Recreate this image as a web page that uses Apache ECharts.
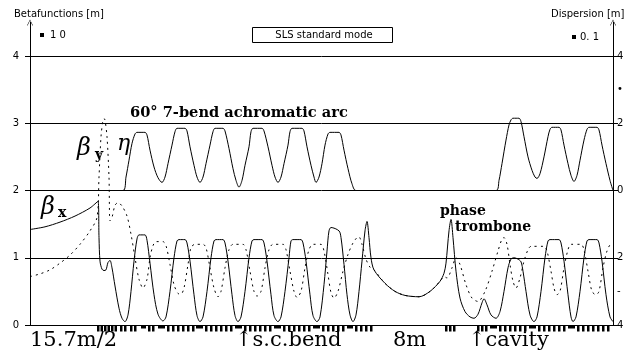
<!DOCTYPE html>
<html><head><meta charset="utf-8">
<script src="https://cdn.jsdelivr.net/npm/echarts@6/dist/echarts.min.js"></script>
<style>html,body{margin:0;padding:0;background:#fff}#c{width:634px;height:354px}</style>
</head><body><div id="c"></div>
<script>
// s: position along the lattice (arbitrary units, left edge 30 .. right edge 613)
const betaX = [[30,1.42],[45,1.46],[60,1.53],[75,1.62],[90,1.74],[98,1.84],[99,1.3],[100,0.95],[102,0.83],[104,0.81],[106,0.82],[108,0.93],[110,0.96],[112,0.85],[115,0.58],[119,0.25],[122,0.1],[125,0.05],[128,0.15],[131,0.5],[134,0.95],[137,1.28],[139,1.34],[145,1.34],[147,1.26],[150,0.92],[154,0.45],[158,0.16],[163,0.06],[166,0.12],[170,0.5],[174,1.0],[177,1.25],[179,1.27],[185,1.27],[187,1.22],[190,0.95],[194,0.45],[197,0.14],[200,0.05],[203,0.12],[207,0.5],[211,1.0],[214,1.25],[216,1.27],[223,1.27],[225,1.22],[228,0.95],[232,0.45],[235,0.14],[238,0.05],[241,0.12],[245,0.5],[249,1.0],[252,1.25],[254,1.27],[262,1.27],[264,1.22],[267,0.95],[271,0.45],[274,0.14],[278,0.05],[281,0.12],[285,0.5],[289,1.0],[291,1.25],[293,1.27],[301,1.27],[303,1.22],[306,0.95],[310,0.45],[313,0.14],[317,0.05],[320,0.12],[324,0.6],[327,1.1],[329,1.4],[331,1.45],[339,1.4],[341,1.3],[344,0.9],[347,0.45],[350,0.15],[353,0.05],[356,0.15],[359,0.5],[362,0.95],[365,1.4],[367,1.54],[369,1.3],[371,1.0],[374,0.82],[385,0.62],[395,0.5],[405,0.44],[419,0.42],[430,0.5],[440,0.65],[444,0.77],[446,0.92],[449,1.4],[451,1.57],[453,1.3],[456,0.8],[460,0.4],[465,0.2],[470,0.12],[474,0.1],[478,0.16],[482,0.33],[484,0.39],[487,0.3],[491,0.15],[496,0.1],[500,0.2],[504,0.5],[508,0.85],[511,0.98],[514,1.0],[518,0.98],[521,0.94],[523,0.8],[526,0.5],[530,0.15],[534,0.05],[537,0.12],[541,0.5],[545,1.0],[548,1.25],[550,1.27],[559,1.27],[561,1.22],[564,0.95],[568,0.45],[571,0.12],[573,0.05],[576,0.12],[580,0.5],[584,1.0],[587,1.25],[589,1.27],[597,1.27],[599,1.22],[602,0.95],[606,0.45],[610,0.12],[613,0.05]];

const betaY = [[30,0.72],[40,0.76],[50,0.82],[60,0.92],[70,1.04],[80,1.2],[90,1.4],[97,1.6],[99,2.2],[101,2.8],[103,3.05],[104,3.07],[105,3.05],[107,2.8],[109,2.2],[110,1.55],[112,1.6],[115,1.78],[118,1.82],[122,1.77],[127,1.62],[131,1.35],[135,1.0],[139,0.68],[143,0.55],[147,0.68],[150,1.0],[153,1.18],[156,1.24],[163,1.24],[166,1.18],[170,0.9],[174,0.6],[178,0.47],[181,0.46],[184,0.55],[188,0.9],[191,1.15],[195,1.2],[203,1.2],[206,1.15],[210,0.85],[214,0.55],[218,0.42],[221,0.5],[225,0.85],[229,1.12],[233,1.2],[243,1.2],[246,1.12],[250,0.8],[254,0.5],[257,0.43],[261,0.5],[265,0.85],[269,1.12],[273,1.2],[283,1.2],[286,1.12],[290,0.8],[294,0.5],[297,0.41],[301,0.5],[305,0.85],[309,1.12],[313,1.2],[321,1.2],[324,1.1],[328,0.75],[331,0.48],[334,0.4],[338,0.5],[343,0.8],[348,1.05],[353,1.22],[357,1.3],[359,1.31],[362,1.2],[366,0.98],[370,0.86],[374,0.82],[385,0.62],[395,0.5],[405,0.44],[419,0.42],[430,0.5],[440,0.65],[444,0.72],[447,0.7],[452,0.85],[456,1.0],[460,0.9],[466,0.6],[472,0.4],[478,0.35],[485,0.5],[492,0.8],[498,1.1],[502,1.28],[504,1.3],[507,1.2],[510,0.9],[513,0.65],[516,0.55],[520,0.7],[524,0.95],[528,1.12],[531,1.17],[544,1.17],[547,1.1],[551,0.8],[554,0.55],[557,0.45],[560,0.5],[564,0.85],[568,1.12],[571,1.2],[581,1.2],[584,1.12],[588,0.8],[592,0.5],[596,0.45],[599,0.5],[603,0.85],[607,1.1],[611,1.2],[613,1.2]];

// dispersion in units of 0.1 m (right axis)
const eta = [[30,0],[123,0],[126,0.4],[129,0.9],[132,1.4],[135,1.68],[137,1.73],[145,1.73],[147,1.65],[150,1.2],[154,0.7],[158,0.38],[162,0.24],[165,0.4],[168,0.8],[172,1.35],[175,1.75],[177,1.85],[185,1.85],[187,1.77],[190,1.3],[194,0.75],[197,0.4],[200,0.24],[203,0.4],[206,0.8],[210,1.35],[213,1.75],[215,1.85],[223,1.85],[225,1.77],[229,1.25],[233,0.65],[236,0.3],[239,0.1],[242,0.3],[245,0.75],[249,1.3],[251,1.75],[253,1.85],[262,1.85],[264,1.77],[268,1.3],[272,0.75],[275,0.4],[278,0.24],[281,0.4],[284,0.8],[288,1.35],[290,1.75],[292,1.85],[302,1.85],[304,1.77],[307,1.3],[311,0.75],[314,0.4],[316,0.24],[319,0.4],[322,0.8],[325,1.35],[328,1.68],[330,1.73],[339,1.73],[341,1.65],[344,1.2],[348,0.65],[352,0.2],[356,0],[496,0],[499,0.3],[502,0.8],[506,1.5],[509,1.95],[511,2.1],[513,2.15],[519,2.15],[521,2.05],[524,1.6],[528,1.0],[532,0.6],[535,0.4],[537,0.36],[540,0.5],[544,1.0],[548,1.6],[550,1.82],[552,1.88],[559,1.88],[561,1.8],[564,1.35],[568,0.8],[571,0.45],[574,0.27],[577,0.45],[580,0.9],[584,1.5],[587,1.82],[589,1.88],[597,1.88],[599,1.8],[602,1.35],[606,0.8],[610,0.3],[613,0]];

// magnets: [start, end, kind] q = full-height (quadrupole/sextupole), b = half-height (dipole)
const magnets = [[97,99.5,'q'],[100.5,103,'q'],[104,106.5,'q'],[107.5,110,'q'],[111,113.5,'q'],[114.5,117,'q'],[120,122.5,'q'],[124,126.5,'q'],[130,132.5,'q'],[134,136.5,'q'],[141,146,'b'],[148,150.5,'q'],[152,154.5,'q'],[158,165,'b'],[167,169.5,'q'],[172,174.5,'q'],[177,179.5,'q'],[182,184.5,'q'],[187,189.5,'q'],[192,194.5,'q'],[196,203,'b'],[205,207.5,'q'],[210,212.5,'q'],[215,217.5,'q'],[220,222.5,'q'],[225,227.5,'q'],[230,232.5,'q'],[235,242,'b'],[244,246.5,'q'],[249,251.5,'q'],[254,256.5,'q'],[259,261.5,'q'],[264,266.5,'q'],[269,271.5,'q'],[274,281,'b'],[283,285.5,'q'],[288,290.5,'q'],[293,295.5,'q'],[298,300.5,'q'],[303,305.5,'q'],[308,310.5,'q'],[313,320,'b'],[322,324.5,'q'],[327,329.5,'q'],[332,334.5,'q'],[337,339.5,'q'],[342,344.5,'q'],[347,353,'b'],[355,357.5,'q'],[360,362.5,'q'],[365,367.5,'q'],[370,372.5,'q'],[445,447.5,'q'],[449,451.5,'q'],[453,455.5,'q'],[477,479.5,'q'],[481,483.5,'q'],[485,487.5,'q'],[490,497,'b'],[499,501.5,'q'],[504,506.5,'q'],[509,511.5,'q'],[514,516.5,'q'],[519,521.5,'q'],[524,526.5,'q'],[529,536,'b'],[538,540.5,'q'],[543,545.5,'q'],[548,550.5,'q'],[553,555.5,'q'],[558,560.5,'q'],[563,565.5,'q'],[568,575,'b'],[577,579.5,'q'],[582,584.5,'q'],[587,589.5,'q'],[592,594.5,'q'],[597,599.5,'q'],[602,604.5,'q'],[607,609.5,'q']];

const leftTicks = [0,1,2,3,4];
const gridLevels = [1,2,3,4];
const rightTickValues = [4,2,0,-2,-4];
const rightLabels = {'4':'4','3':'•','2':'2','0':'0','-2':'2','-3':'-','-4':'4'};

const chart = echarts.init(document.getElementById('c'), null, {renderer:'canvas'});
const smallFont = 'DejaVu Sans';
const serif = 'DejaVu Serif';
const arrowSym = 'path://M0,10L5,0L10,10L9,10L5,2L1,10Z';

chart.setOption({
  animation:false,
  backgroundColor:'#fff',
  grid:{left:30,right:21,top:22.4,bottom:29,containLabel:false},
  xAxis:{type:'value',min:30,max:613,
    axisLine:{show:true,onZero:false,lineStyle:{color:'#000',width:1}},
    axisTick:{show:false},axisLabel:{show:false},splitLine:{show:false}},
  yAxis:[
    {type:'value',min:0,max:4.5,position:'left',
     axisLine:{show:true,symbol:['none',arrowSym],symbolSize:[6,8],lineStyle:{color:'#000',width:1}},
     axisTick:{show:true,customValues:leftTicks,length:5,lineStyle:{color:'#000'}},
     axisLabel:{customValues:leftTicks,color:'#000',fontFamily:smallFont,fontSize:10,margin:11},
     splitLine:{show:false}},
    {type:'value',min:-4,max:5,position:'right',
     axisLine:{show:true,symbol:['none',arrowSym],symbolSize:[6,8],lineStyle:{color:'#000',width:1}},
     axisTick:{show:true,customValues:rightTickValues,length:5,lineStyle:{color:'#000'}},
     axisLabel:{customValues:[4,3,2,0,-2,-3,-4],color:'#000',fontFamily:smallFont,fontSize:10,margin:4,
       formatter:v=>rightLabels[String(v)]||''},
     splitLine:{show:false}}
  ],
  series:[
    {type:'line',name:'betaX',data:betaX,showSymbol:false,smooth:0.3,z:3,
     lineStyle:{color:'#000',width:1},
     markLine:{silent:true,symbol:'none',label:{show:false},lineStyle:{color:'#000',type:'solid',width:1},
       data:gridLevels.map(v=>({yAxis:v}))}},
    {type:'line',name:'betaY',data:betaY,showSymbol:false,smooth:0.3,z:2,
     lineStyle:{color:'#000',width:1,type:[2,4]}},
    {type:'line',name:'eta',yAxisIndex:1,data:eta,showSymbol:false,smooth:0.3,
     lineStyle:{color:'#000',width:1}},
    {type:'custom',name:'magnets',clip:false,data:magnets.map(m=>[m[0],m[1],m[2]==='q'?1:0]),
     encode:{x:[0,1]},
     renderItem:function(params,api){
       const p0=api.coord([api.value(0),0]);const p1=api.coord([api.value(1),0]);
       const h=api.value(2)===1?6:3;
       return {type:'rect',shape:{x:p0[0],y:p0[1]+0.5,width:p1[0]-p0[0],height:h},style:{fill:'#000'}};
     }}
  ],
  graphic:[
    {type:'text',left:14,top:9,style:{text:'Betafunctions [m]',font:'10px '+smallFont,fill:'#000'}},
    {type:'rect',shape:{x:40,y:33,width:4,height:4},style:{fill:'#000'}},
    {type:'text',left:50,top:30,style:{text:'1 0',font:'10px '+smallFont,fill:'#000'}},
    {type:'rect',shape:{x:252.5,y:27.5,width:140,height:15},style:{fill:'#fff',stroke:'#000',lineWidth:1}},
    {type:'text',x:324,y:35,style:{text:'SLS standard mode',font:'10px '+smallFont,fill:'#000',align:'center',verticalAlign:'middle'}},
    {type:'text',left:551,top:9,style:{text:'Dispersion [m]',font:'10px '+smallFont,fill:'#000'}},
    {type:'rect',shape:{x:572,y:35,width:4,height:4},style:{fill:'#000'}},
    {type:'text',left:580,top:32,style:{text:'0. 1',font:'10px '+smallFont,fill:'#000'}},
    {type:'text',left:130,top:106,style:{text:'60° 7-bend achromatic arc',font:'bold 14.6px '+serif,fill:'#000'}},
    {type:'text',left:77,top:137,style:{text:'β',font:'italic 24px '+serif,fill:'#000'}},
    {type:'text',left:95,top:148,style:{text:'y',font:'bold 14px '+serif,fill:'#000'}},
    {type:'text',left:117,top:133,style:{text:'η',font:'italic 22px '+serif,fill:'#000'}},
    {type:'text',left:41,top:196,style:{text:'β',font:'italic 24px '+serif,fill:'#000'}},
    {type:'text',left:58,top:206,style:{text:'x',font:'bold 14px '+serif,fill:'#000'}},
    {type:'text',left:440,top:204,style:{text:'phase',font:'bold 14px '+serif,fill:'#000'}},
    {type:'text',left:455,top:220,style:{text:'trombone',font:'bold 14px '+serif,fill:'#000'}},
    {type:'text',left:30,top:330,style:{text:'15.7m/2',font:'21px '+serif,fill:'#000'}},
    {type:'text',left:235,top:330,style:{text:'↑s.c.bend',font:'21px '+serif,fill:'#000'}},
    {type:'text',left:393,top:330,style:{text:'8m',font:'21px '+serif,fill:'#000'}},
    {type:'text',left:468,top:330,style:{text:'↑cavity',font:'21px '+serif,fill:'#000'}}
  ]
});
</script></body></html>
